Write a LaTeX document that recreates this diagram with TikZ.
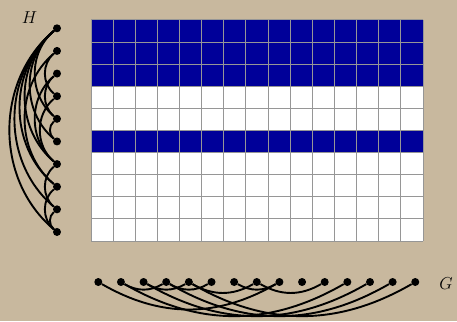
\documentclass[tikz,border=0pt]{standalone}
\usepackage{xcolor}
\definecolor{bgtan}{RGB}{200,184,158}
\definecolor{cellblue}{RGB}{0,0,153}
\definecolor{gridgray}{RGB}{150,150,150}
\tikzset{
  vert/.style={circle,fill=black,inner sep=0pt,minimum size=8pt},
  edge/.style={line width=1.9pt},
  gridline/.style={draw=gridgray,line width=1pt},
}
\begin{document}
\begin{tikzpicture}[x=1pt,y=-1pt]
  \fill[bgtan] (0,0) rectangle (457,321);
  \useasboundingbox (0,0) rectangle (457,321);

  % the table
  \fill[white] (91,20) rectangle (423,241);
  \foreach \r in {0,1,2,5}
    \fill[cellblue] (91,{20+22.1*\r}) rectangle (423,{20+22.1*(\r+1)});
  \foreach \i in {0,...,15}
    \draw[gridline] ({91+22.133*\i},20) -- ({91+22.133*\i},241);
  \foreach \j in {0,...,10}
    \draw[gridline] (91,{20+22.1*\j}) -- (423,{20+22.1*\j});

  % graph H
  \foreach \i in {1,...,10}
    \node[vert] (h\i) at (57,{28.3+22.63*(\i-1)}) {};
  \foreach \a/\b in {1/5,1/6,1/7,1/8,1/9,1/10,2/4,3/5,2/8,3/7,4/7,5/6,7/9,8/10,9/10}
    \draw[edge] (h\a) to[bend right=50] (h\b);
  \node (hname) at (29.5,18) {\fontsize{18}{18}\selectfont$H$};

  % graph G
  \foreach \i in {1,...,15}
    \node[vert] (g\i) at ({98.3+22.64*(\i-1)},282) {};
  \foreach \a/\b in {1/9,2/4,2/12,3/5,3/13,4/6,4/14,5/15,5/8,7/9,8/11}
    \draw[edge] (g\a) to[bend right=30] (g\b);
  \node (gname) at (446,284) {\fontsize{18}{18}\selectfont$G$};
\end{tikzpicture}
\end{document}
